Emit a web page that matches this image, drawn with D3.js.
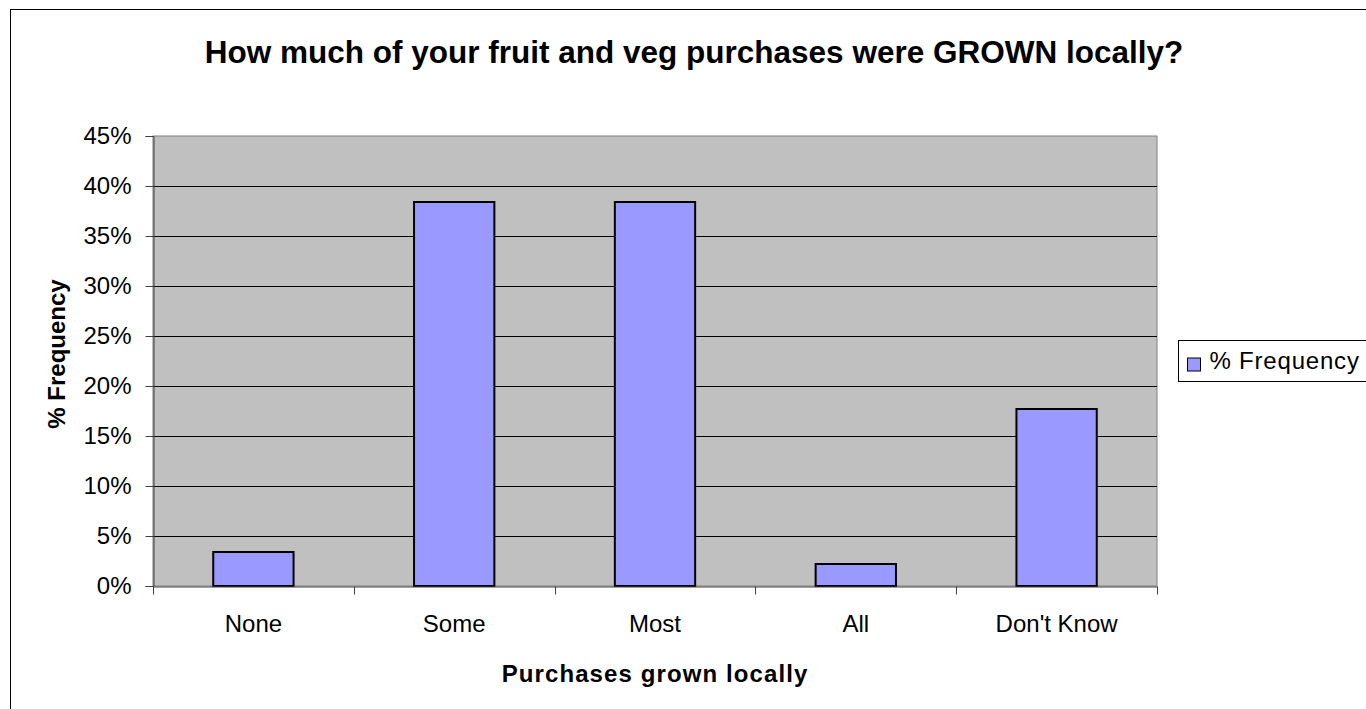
<!DOCTYPE html>
<html>
<head>
<meta charset="utf-8">
<script src="https://cdn.jsdelivr.net/npm/d3@7"></script>
<style>
  html, body { margin: 0; padding: 0; background: #fff; }
  svg { display: block; font-family: "Liberation Sans", Arial, sans-serif; }
</style>
</head>
<body>
<div id="diagram"></div>
<script>
!(function () {
  'use strict';
  // - - - - - - - - - -
  // data
  const categories = ['None', 'Some', 'Most', 'All', "Don't Know"];
  const frequency = [3.4, 38.4, 38.4, 2.2, 17.7];
  const yTicks = [0, 5, 10, 15, 20, 25, 30, 35, 40, 45];
  const seriesName = '% Frequency';

  const canvas = { width: 1366, height: 709 };
  const plot = { left: 153, right: 1157, top: 136, bottom: 586 };
  const font = '"Liberation Sans", Arial, sans-serif';

  const svg = d3.select('#diagram').append('svg')
    .attr('width', canvas.width)
    .attr('height', canvas.height);

  // outer chart border
  svg.append('rect')
    .attr('x', 10.5).attr('y', 9.5)
    .attr('width', 1400).attr('height', 760)
    .attr('fill', '#fff').attr('stroke', '#000').attr('stroke-width', 1);

  const xScale = d3.scaleBand()
    .domain(categories)
    .range([plot.left, plot.right])
    .paddingInner(0.6).paddingOuter(0.3);

  const xBand = d3.scaleBand()
    .domain(categories)
    .range([plot.left, plot.right]);

  const yScale = d3.scaleLinear()
    .domain([0, 45])
    .range([plot.bottom, plot.top]);

  // plot background
  svg.append('rect')
    .attr('x', plot.left).attr('y', plot.top)
    .attr('width', plot.right - plot.left).attr('height', plot.bottom - plot.top)
    .attr('fill', '#c0c0c0').attr('stroke', '#808080').attr('stroke-width', 1);

  // gridlines
  svg.append('g')
    .selectAll('line')
    .data(yTicks.filter(d => d > 0 && d < 45))
    .join('line')
    .attr('x1', plot.left).attr('x2', plot.right)
    .attr('y1', d => Math.round(yScale(d)) + 0.5)
    .attr('y2', d => Math.round(yScale(d)) + 0.5)
    .attr('stroke', '#000').attr('stroke-width', 1);

  // bars
  svg.append('g')
    .selectAll('rect')
    .data(frequency)
    .join('rect')
    .attr('x', (d, i) => xScale(categories[i]))
    .attr('y', d => yScale(d))
    .attr('width', xScale.bandwidth())
    .attr('height', d => yScale(0) - yScale(d))
    .attr('fill', '#9999ff')
    .attr('stroke', '#000').attr('stroke-width', 2);

  // y axis
  const yAxis = svg.append('g')
    .attr('transform', 'translate(' + (plot.left + 0.5) + ', 0)')
    .call(d3.axisLeft(yScale).tickValues(yTicks).tickSize(8).tickPadding(14)
      .tickFormat(d => d + '%'));
  yAxis.select('.domain').attr('stroke', '#404040');
  yAxis.selectAll('.tick line').attr('stroke', '#404040');
  yAxis.selectAll('text').attr('font-size', 24).attr('fill', '#000')
    .attr('font-family', font);

  // x axis
  const xAxis = svg.append('g')
    .attr('transform', 'translate(0, ' + (plot.bottom + 0.5) + ')')
    .call(d3.axisBottom(xBand).tickSize(0).tickPadding(28));
  xAxis.select('.domain').attr('stroke', '#404040');
  xAxis.selectAll('text').attr('font-size', 24).attr('fill', '#000')
    .attr('font-family', font);

  // x category separators
  xAxis.append('g')
    .selectAll('line')
    .data(categories.concat(['end']))
    .join('line')
    .attr('x1', (d, i) => Math.round(plot.left + i * xBand.step()) + 0.5)
    .attr('x2', (d, i) => Math.round(plot.left + i * xBand.step()) + 0.5)
    .attr('y1', 0).attr('y2', 8)
    .attr('stroke', '#404040');

  // title
  svg.append('text')
    .attr('x', 694).attr('y', 63)
    .attr('text-anchor', 'middle')
    .attr('font-size', 31.5).attr('font-weight', 'bold')
    .text('How much of your fruit and veg purchases were GROWN locally?');

  // axis titles
  svg.append('text')
    .attr('transform', 'translate(65, 354) rotate(-90)')
    .attr('text-anchor', 'middle')
    .attr('font-size', 24).attr('font-weight', 'bold')
    .text('% Frequency');

  svg.append('text')
    .attr('x', 655).attr('y', 682)
    .attr('text-anchor', 'middle')
    .attr('font-size', 24).attr('font-weight', 'bold')
    .attr('letter-spacing', 1.1)
    .text('Purchases grown locally');

  // legend
  const legend = svg.append('g').attr('transform', 'translate(1178.5, 340.5)');
  legend.append('rect')
    .attr('width', 220).attr('height', 41)
    .attr('fill', '#fff').attr('stroke', '#000');
  legend.append('rect')
    .attr('x', 9).attr('y', 17.5).attr('width', 13).attr('height', 13)
    .attr('fill', '#9999ff').attr('stroke', '#000').attr('stroke-width', 1);
  legend.append('text')
    .attr('x', 31).attr('y', 28.5)
    .attr('font-size', 24)
    .attr('letter-spacing', 0.8)
    .text(seriesName);
  // - - - - - - - - - -
}());
</script>
</body>
</html>
